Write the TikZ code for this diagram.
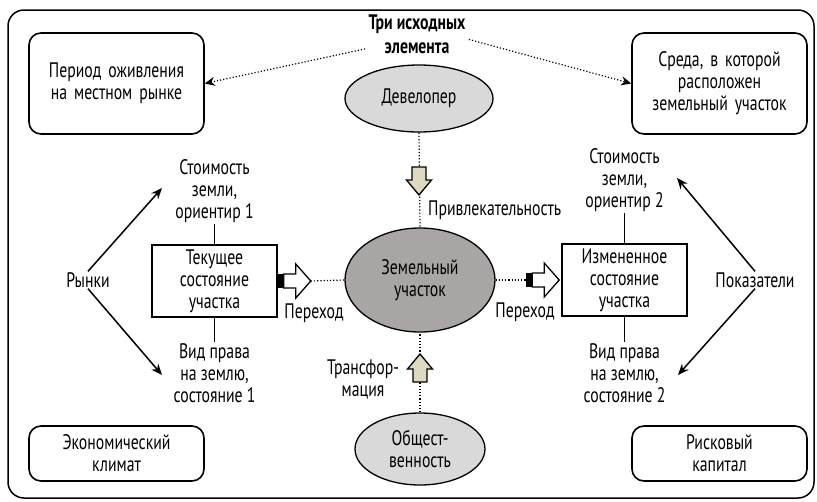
\documentclass[tikz,border=0pt]{standalone}
\usepackage{fontspec}
\setmainfont{PT Sans}[FakeStretch=0.75]
\usetikzlibrary{shapes.geometric,arrows.meta,positioning,calc}
\definecolor{ovallight}{RGB}{217,217,217}
\definecolor{ovaldark}{RGB}{168,165,164}
\definecolor{arrowkhaki}{RGB}{222,217,192}

\tikzset{
  roundbox/.style={draw,line width=1.6pt,rounded corners=12pt,align=center,minimum width=175pt,text width=165pt,inner sep=0pt},
  statebox/.style={draw,line width=1.6pt,align=center,minimum width=125pt,minimum height=72pt,inner sep=0pt},
  oval/.style={ellipse,draw,line width=1.3pt,align=center,inner sep=0pt},
  lbl/.style={align=center,inner sep=1pt},
  link/.style={line width=1.5pt,-{Stealth[length=11pt,width=9pt]}},
  dots/.style={dotted,line width=1.2pt},
  passarrow/.pic={
    \fill (0,-7) rectangle (6,7);
    \draw[line width=1.3pt,fill=white] (6,-7) -- (18,-7) -- (18,-17) -- (33,0) -- (18,17) -- (18,7) -- (6,7) -- cycle;
  },
  pusharrow/.pic={
    \draw[line width=1.3pt,fill=arrowkhaki] (-7,0) -- (7,0) -- (7,13) -- (12.5,13) -- (0,28) -- (-12.5,13) -- (-7,13) -- cycle;
  }
}

\begin{document}
\begin{tikzpicture}[x=1pt,y=-1pt,font=\fontsize{21}{22}\selectfont]
\useasboundingbox (0,0) rectangle (817,501);
\draw[line width=1.5pt,rounded corners=16pt] (8,10) rectangle (814,498);
\node[font=\fontsize{21}{24}\selectfont\bfseries,align=center] (title) at (417,34) {Три исходных\\элемента};
% corner boxes
\node[roundbox,minimum height=101pt] (revival) at (116.5,83.5) {Период оживления\\на местном рынке};
\node[roundbox,minimum height=101pt] (setting) at (719.5,83.5) {Среда, в которой\\расположен\\земельный участок};
\node[roundbox,minimum height=55pt] (climate) at (116.5,453.5) {Экономический\\климат};
\node[roundbox,minimum height=55pt] (capital) at (719.5,453.5) {Рисковый\\капитал};
\draw[dots,-{Stealth[length=10pt,width=9pt]}] (title.196) -- (revival.east);
\draw[dots,-{Stealth[length=10pt,width=9pt]}] (title.354) -- (setting.west);
% three ovals in the middle
\node[oval,fill=ovallight,minimum width=148pt,minimum height=67pt] (dev) at (419,98.5) {Девелопер};
\node[oval,fill=ovaldark,minimum width=150pt,minimum height=104pt] (land) at (420,280) {Земельный\\участок};
\node[oval,fill=ovallight,minimum width=130pt,minimum height=72pt] (public) at (420,449) {Общест-\\венность};
\draw[dots] (dev.south) -- (land.north);
\draw[dots] (public.north) -- (land.south);
\pic at (419,167) {pusharrow};
\pic[rotate=180] at (420,382) {pusharrow};
\node[lbl,anchor=west] (attract) at (427,210) {Привлекательность};
\node[lbl] (transf) at (363,379) {Трансфор-\\мация};
% state boxes
\node[statebox] (cur) at (214.5,281) {Текущее\\состояние\\участка};
\node[statebox] (chg) at (624.5,280) {Измененное\\состояние\\участка};
\pic at (cur.east) {passarrow};
\coordinate (tip1) at ([xshift=33pt]cur.east);
\coordinate (tail2) at ([xshift=-35pt]chg.west);
\pic at (tail2) {passarrow};
\draw[dots] (tip1) -- (land.west);
\draw[dots] (land.east) -- (tail2);
\node[lbl] (pass1) at (314,313) {Переход};
\node[lbl] (pass2) at (525,312) {Переход};
\node[lbl,anchor=south] (cost1) at (214.5,224) {Стоимость\\земли,\\ориентир 1};
\node[lbl,anchor=south] (cost2) at (624.5,213) {Стоимость\\земли,\\ориентир 2};
\node[lbl,anchor=north] (right1) at (214.5,342) {Вид права\\на землю,\\состояние 1};
\node[lbl,anchor=north] (right2) at (624.5,342) {Вид права\\на землю,\\состояние 2};
\draw[line width=1.5pt] (cur.north) -- (cost1.south);
\draw[line width=1.5pt] (cur.south) -- (right1.north);
\draw[line width=1.5pt] (chg.north) -- (cost2.south);
\draw[line width=1.5pt] (chg.south) -- (right2.north);
% side labels with arrows
\node[lbl] (markets) at (88,280) {Рынки};
\node[lbl] (indic) at (755,280) {Показатели};
\coordinate (m1) at (162,188);
\coordinate (m2) at (162,375);
\coordinate (p1) at (677,178);
\coordinate (p2) at (678,375);
\draw[link] (markets.north) -- (m1);
\draw[link] (markets.south) -- (m2);
\draw[link] (indic.north) -- (p1);
\draw[link] (indic.south) -- (p2);
\end{tikzpicture}
\end{document}
